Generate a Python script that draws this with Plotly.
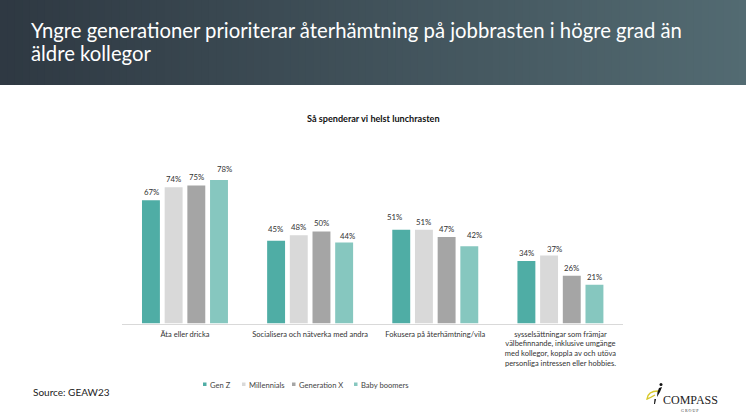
import plotly.graph_objects as go

W, H = 746, 420

title_lines = ["Yngre generationer prioriterar återhämtning på jobbrasten i högre grad än", "äldre kollegor"]
subtitle = "Så spenderar vi helst lunchrasten"
source = "Source: GEAW23"

categories = [
    "Äta eller dricka",
    "Socialisera och nätverka med andra",
    "Fokusera på återhämtning/vila",
    "sysselsättningar som främjar<br>välbefinnande, inklusive umgänge<br>med kollegor, koppla av och utöva<br>personliga intressen eller hobbies.",
]
series = ["Gen Z", "Millennials", "Generation X", "Baby boomers"]
gen_z = [67, 45, 51, 34]
millennials = [74, 48, 51, 37]
generation_x = [75, 50, 47, 26]
baby_boomers = [78, 44, 42, 21]
values = [gen_z, millennials, generation_x, baby_boomers]
colors = ["#4fada5", "#d9d9d9", "#a5a5a5", "#86c7bf"]

# the value labels are nudged by hand in the original (dx, dy in px, per series per group)
label_dx = [[0, -1, -7, 0], [0, 0, 0, 5], [0, 0, 0, 0], [6, 3, 5, 0]]
label_dy = [[8, 12, 13, 8], [8, 8, 8, 6], [8, 8, 8, 8], [11, 7, 11, 8]]
legend_swatch_x = [203, 242, 292, 354]

FONT = "Lato"


def px(x):
    return x / W


def py(y):
    return 1 - y / H


def page_text(text, x, y, size, color, xanchor="center", family=FONT):
    return dict(text=text, x=px(x), y=py(y), xref="paper", yref="paper", xanchor=xanchor,
                yanchor="middle", showarrow=False, font=dict(family=family, size=size, color=color))


fig = go.Figure()
for s, name in enumerate(series):
    fig.add_trace(go.Bar(x=list(range(len(categories))), y=values[s], name=name,
                         marker_color=colors[s], marker_line_width=0))

annotations = []
shapes = []

# banner gradient
steps = 100
for i in range(steps):
    t = i / (steps - 1)
    c = "rgb(%d,%d,%d)" % (47 + t * 36, 57 + t * 50, 67 + t * 47)
    shapes.append(dict(type="rect", xref="paper", yref="paper", layer="below",
                       x0=px(W * i / steps), x1=min(1, px(W * (i + 1) / steps + 1)), y0=py(85), y1=1,
                       fillcolor=c, line_width=0))

annotations.append(page_text(title_lines[0], 29, 30, 20.3, "white", "left"))
annotations.append(page_text(title_lines[1], 29, 52.7, 20.3, "white", "left"))
annotations.append(page_text("<b>" + subtitle + "</b>", 373, 118, 9.1, "#111111"))
annotations.append(page_text(source, 31, 392, 10, "#222222", "left"))

# value labels
pitch = 0.181
for s in range(len(series)):
    for c in range(len(categories)):
        annotations.append(dict(text="%d%%" % values[s][c], x=c + (s - 1.5) * pitch, y=values[s][c],
                                xref="x", yref="y", showarrow=False, xshift=label_dx[s][c],
                                yshift=label_dy[s][c], font=dict(family=FONT, size=7.8, color="#333333")))

# legend
for s, name in enumerate(series):
    x = legend_swatch_x[s]
    shapes.append(dict(type="rect", xref="paper", yref="paper", x0=px(x), x1=px(x + 3.5),
                       y0=py(386), y1=py(382.5), fillcolor=colors[s], line_width=0))
    annotations.append(page_text(name, x + 5, 384.5, 7.6, "#444444", "left"))

# logo
shapes.append(dict(type="path", xref="paper", yref="paper", line=dict(color="#d8c92a", width=1.4),
                   path="M %f %f Q %f %f %f %f Q %f %f %f %f" % (
                       px(658), py(391), px(648), py(391), px(647), py(399),
                       px(650), py(398), px(655), py(395))))
shapes.append(dict(type="circle", xref="paper", yref="paper", fillcolor="#111111", line_width=0,
                   x0=px(659.5), x1=px(662.5), y0=py(386), y1=py(383)))
shapes.append(dict(type="path", xref="paper", yref="paper", fillcolor="#111111", line_width=0,
                   path="M %f %f L %f %f L %f %f L %f %f L %f %f Z" % (
                       px(659), py(388), px(662), py(387), px(660), py(392),
                       px(657), py(397), px(657.5), py(392))))
shapes.append(dict(type="path", xref="paper", yref="paper", fillcolor="#111111", line_width=0,
                   path="M %f %f L %f %f L %f %f L %f %f Z" % (
                       px(654.5), py(399), px(656), py(399), px(655), py(404), px(654), py(404))))
annotations.append(page_text("COMPASS", 690, 400, 12, "#222222", family="Liberation Serif"))
annotations.append(page_text("G R O U P", 690, 410, 4, "#333333", family="Liberation Serif"))

fig.update_layout(
    width=W, height=H, margin=dict(l=0, r=0, t=0, b=0),
    paper_bgcolor="white", plot_bgcolor="white",
    barmode="group", bargap=0.275, bargroupgap=0.21, showlegend=False,
    shapes=shapes, annotations=annotations,
    font=dict(family=FONT, size=7.5, color="#333333"),
)
fig.update_xaxes(domain=[px(122.4), px(623)], range=[-0.5, 3.5], tickmode="array",
                 tickvals=list(range(len(categories))), ticktext=categories, ticks="",
                 showline=True, linecolor="#d9d9d9", linewidth=1, showgrid=False, zeroline=False,
                 ticklabelstandoff=3,
                 tickfont=dict(family=FONT, size=7.5, color="#333333"))
fig.update_yaxes(domain=[py(323.5), py(139.5)], range=[0, 100], visible=False, showgrid=False)

fig.write_html("out.html", config=dict(displayModeBar=False),
               post_script="document.body.style.margin='0';")
